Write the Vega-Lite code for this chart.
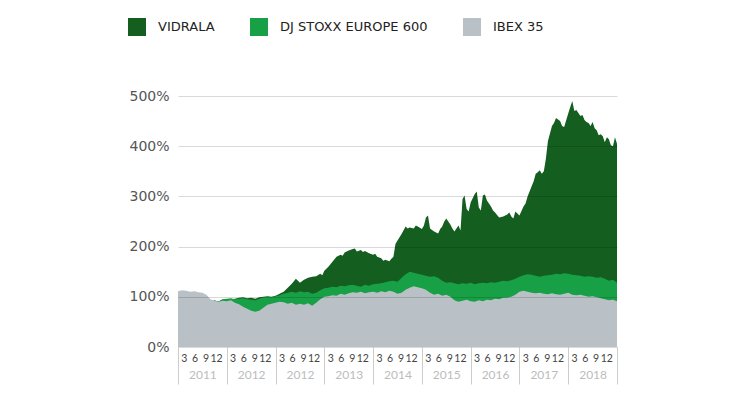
{
  "$schema": "https://vega.github.io/schema/vega-lite/v6.json",
  "autosize": "none",
  "width": 439,
  "height": 251,
  "padding": {"left": 178, "top": 96, "right": 123, "bottom": 53},
  "background": "white",
  "config": {
    "font": "DejaVu Sans",
    "view": {"stroke": null},
    "axis": {"title": null, "labelFont": "DejaVu Sans", "grid": false}
  },
  "data": {
    "values": [
      {"t":0,"v":105,"s":100,"i":111},{"t":1,"v":106,"s":102,"i":113},{"t":2,"v":104,"s":101,"i":112},
      {"t":3,"v":105,"s":103,"i":110},{"t":4,"v":103,"s":102,"i":111},{"t":5,"v":102,"s":100,"i":109},
      {"t":6,"v":99,"s":98,"i":108},{"t":7,"v":94,"s":95,"i":104},{"t":8,"v":89,"s":90,"i":95},
      {"t":9,"v":93,"s":92,"i":92},{"t":10,"v":90,"s":91,"i":90},{"t":11,"v":95,"s":95,"i":92},
      {"t":12,"v":92,"s":96,"i":91},{"t":13,"v":94,"s":97,"i":93},{"t":14,"v":96,"s":95,"i":88},
      {"t":15,"v":98,"s":96,"i":85},{"t":16,"v":99,"s":97,"i":80},{"t":17,"v":97,"s":95,"i":76},
      {"t":18,"v":98,"s":94,"i":72},{"t":19,"v":96,"s":93,"i":70},{"t":20,"v":99,"s":96,"i":72},
      {"t":21,"v":100,"s":99,"i":78},{"t":22,"v":101,"s":100,"i":84},{"t":23,"v":100,"s":99,"i":86},
      {"t":24,"v":102,"s":101,"i":88},{"t":25,"v":106,"s":103,"i":90},{"t":26,"v":110,"s":106,"i":89},
      {"t":27,"v":118,"s":108,"i":86},{"t":28,"v":126,"s":110,"i":88},{"t":29,"v":136,"s":108,"i":84},
      {"t":30,"v":128,"s":111,"i":86},{"t":31,"v":134,"s":109,"i":84},{"t":32,"v":138,"s":110,"i":87},
      {"t":33,"v":140,"s":106,"i":82},{"t":34,"v":141,"s":108,"i":88},{"t":35,"v":146,"s":113,"i":95},
      {"t":36,"v":152,"s":117,"i":100},{"t":37,"v":160,"s":118,"i":101},{"t":38,"v":170,"s":120,"i":103},
      {"t":39,"v":180,"s":119,"i":102},{"t":40,"v":184,"s":122,"i":106},{"t":41,"v":188,"s":121,"i":104},
      {"t":42,"v":192,"s":123,"i":107},{"t":43,"v":195,"s":124,"i":109},{"t":44,"v":190,"s":122,"i":108},
      {"t":45,"v":193,"s":120,"i":110},{"t":46,"v":191,"s":124,"i":107},{"t":47,"v":187,"s":122,"i":109},
      {"t":48,"v":184,"s":125,"i":110},{"t":49,"v":180,"s":126,"i":108},{"t":50,"v":177,"s":127,"i":111},
      {"t":51,"v":174,"s":129,"i":109},{"t":52,"v":171,"s":131,"i":112},{"t":53,"v":180,"s":132,"i":110},
      {"t":54,"v":212,"s":130,"i":106},{"t":55,"v":225,"s":138,"i":108},{"t":56,"v":240,"s":145,"i":114},
      {"t":57,"v":238,"s":150,"i":118},{"t":58,"v":236,"s":148,"i":121},{"t":59,"v":240,"s":146,"i":119},
      {"t":60,"v":235,"s":144,"i":117},{"t":61,"v":258,"s":142,"i":114},{"t":62,"v":236,"s":140,"i":108},
      {"t":63,"v":230,"s":141,"i":104},{"t":64,"v":226,"s":138,"i":106},{"t":65,"v":240,"s":132,"i":102},
      {"t":66,"v":256,"s":128,"i":104},{"t":67,"v":244,"s":129,"i":100},{"t":68,"v":230,"s":127,"i":93},
      {"t":69,"v":242,"s":125,"i":90},{"t":70,"v":295,"s":127,"i":92},{"t":71,"v":275,"s":126,"i":94},
      {"t":72,"v":288,"s":128,"i":91},{"t":73,"v":305,"s":125,"i":90},{"t":74,"v":278,"s":127,"i":93},
      {"t":75,"v":302,"s":128,"i":91},{"t":76,"v":292,"s":127,"i":94},{"t":77,"v":280,"s":129,"i":93},
      {"t":78,"v":268,"s":128,"i":96},{"t":79,"v":258,"s":130,"i":95},{"t":80,"v":260,"s":132,"i":98},
      {"t":81,"v":264,"s":131,"i":98},{"t":82,"v":260,"s":133,"i":100},{"t":83,"v":270,"s":136,"i":104},
      {"t":84,"v":262,"s":140,"i":110},{"t":85,"v":280,"s":143,"i":112},{"t":86,"v":300,"s":145,"i":110},
      {"t":87,"v":320,"s":144,"i":108},{"t":88,"v":345,"s":142,"i":107},{"t":89,"v":352,"s":140,"i":108},
      {"t":90,"v":350,"s":142,"i":106},{"t":91,"v":410,"s":143,"i":105},{"t":92,"v":440,"s":144,"i":107},
      {"t":93,"v":456,"s":146,"i":105},{"t":94,"v":450,"s":145,"i":104},{"t":95,"v":438,"s":147,"i":106},
      {"t":96,"v":465,"s":146,"i":108},{"t":97,"v":490,"s":144,"i":104},{"t":98,"v":472,"s":143,"i":103},
      {"t":99,"v":460,"s":142,"i":104},{"t":100,"v":452,"s":140,"i":102},{"t":101,"v":446,"s":141,"i":100},
      {"t":102,"v":448,"s":140,"i":101},{"t":103,"v":432,"s":138,"i":99},{"t":104,"v":424,"s":139,"i":97},
      {"t":105,"v":408,"s":136,"i":95},{"t":106,"v":414,"s":132,"i":93},{"t":107,"v":400,"s":134,"i":94},
      {"t":108,"v":405,"s":128,"i":91},
      {"t":35.5,"v":143},{"t":37.5,"v":165},{"t":40.5,"v":182},{"t":43.5,"v":196},{"t":45.5,"v":189},
      {"t":48.5,"v":186},{"t":50.5,"v":172},{"t":52.5,"v":176},{"t":53.5,"v":205},{"t":56.5,"v":236},
      {"t":58.5,"v":242},{"t":60.5,"v":242},{"t":61.5,"v":262},{"t":62.5,"v":233},{"t":64.5,"v":235},
      {"t":65.5,"v":250},{"t":66.5,"v":250},{"t":67.5,"v":236},{"t":69.5,"v":232},{"t":70.5,"v":302},
      {"t":71.5,"v":270},{"t":73.5,"v":310},{"t":74.5,"v":272},{"t":75.5,"v":304},{"t":76.5,"v":286},
      {"t":77.5,"v":272},{"t":81.5,"v":268},{"t":82.5,"v":256},{"t":85.5,"v":286},{"t":87.5,"v":330},
      {"t":88.5,"v":348},{"t":89.5,"v":345},{"t":90.5,"v":375},{"t":92.5,"v":446},{"t":94.5,"v":440},
      {"t":96.5,"v":478},{"t":97.5,"v":470},{"t":99.5,"v":462},{"t":100.5,"v":448},{"t":101.5,"v":440},
      {"t":102.5,"v":436},{"t":103.5,"v":422},{"t":104.5,"v":420},{"t":105.5,"v":418},{"t":106.5,"v":402},
      {"t":107.5,"v":418}
    ]
  },
  "resolve": {"scale": {"x": "independent"}, "axis": {"x": "independent"}},
  "layer": [
    {
      "encoding": {
        "x": {
          "field": "t",
          "type": "quantitative",
          "scale": {"domain": [0, 108], "nice": false, "zero": false},
          "axis": {
            "orient": "bottom",
            "values": [1.45, 4.05, 6.75, 9.35, 13.45, 16.05, 18.75, 21.35, 25.45, 28.05, 30.75, 33.35, 37.45, 40.05, 42.75, 45.35, 49.45, 52.05, 54.75, 57.35, 61.45, 64.05, 66.75, 69.35, 73.45, 76.05, 78.75, 81.35, 85.45, 88.05, 90.75, 93.35, 97.45, 100.05, 102.75, 105.35],
            "labelExpr": "(datum.value % 12) < 3 ? '3' : (datum.value % 12) < 5.5 ? '6' : (datum.value % 12) < 8 ? '9' : '12'",
            "labelFont": "Lato",
            "domain": false,
            "ticks": false,
            "tickSize": 0,
            "labelPadding": 6,
            "labelFontSize": 10.5,
            "labelColor": "#444444",
            "labelOverlap": false,
            "labelFlush": false,
            "labelAlign": "center"
          }
        },
        "y": {
          "type": "quantitative",
          "stack": null,
          "scale": {"domain": [0, 500], "nice": false},
          "axis": {
            "values": [0, 100, 200, 300, 400, 500],
            "labelExpr": "datum.value + '%'",
            "grid": true,
            "gridColor": "#000000",
            "gridOpacity": 0.15,
            "gridWidth": 1.2,
            "domain": false,
            "ticks": false,
            "labelPadding": 9,
            "labelFontSize": 14,
            "labelColor": "#555555",
            "zindex": 1
          }
        }
      },
      "layer": [
        {
          "mark": {"type": "area", "interpolate": "linear", "invalid": "filter"},
          "encoding": {
            "y": {"field": "v", "type": "quantitative", "stack": null},
            "color": {
              "datum": "VIDRALA",
              "type": "nominal",
              "scale": {
                "domain": ["VIDRALA", "DJ STOXX EUROPE 600", "IBEX 35"],
                "range": ["#145e20", "#17a046", "#b9c1c6"]
              },
              "legend": {
                "title": null,
                "orient": "none",
                "legendX": -50,
                "legendY": -78,
                "direction": "horizontal",
                "symbolType": "square",
                "symbolSize": 324,
                "symbolStrokeWidth": 0,
                "symbolOpacity": 1,
                "labelFont": "DejaVu Sans",
                "labelFontSize": 13,
                "labelColor": "#222222",
                "labelOffset": 12,
                "columnPadding": 35
              }
            }
          }
        },
        {
          "mark": {"type": "area", "interpolate": "linear", "invalid": "filter"},
          "encoding": {
            "y": {"field": "s", "type": "quantitative", "stack": null},
            "color": {"datum": "DJ STOXX EUROPE 600", "type": "nominal"}
          }
        },
        {
          "mark": {"type": "area", "interpolate": "linear", "invalid": "filter"},
          "encoding": {
            "y": {"field": "i", "type": "quantitative", "stack": null},
            "color": {"datum": "IBEX 35", "type": "nominal"}
          }
        }
      ]
    },
    {
      "mark": {"type": "rule", "opacity": 0},
      "encoding": {
        "x": {
          "field": "t",
          "type": "quantitative",
          "scale": {"domain": [0, 108], "nice": false, "zero": false},
          "axis": {
            "orient": "bottom",
            "values": [6, 18, 30, 42, 54, 66, 78, 90, 102],
            "labelExpr": "['2011','2012','2012','2013','2014','2015','2016','2017','2018'][floor(datum.value / 12)]",
            "labelFont": "Lato",
            "domain": false,
            "ticks": false,
            "tickSize": 0,
            "labelPadding": 22,
            "labelFontSize": 12,
            "labelColor": "#bcbcbc",
            "labelOverlap": false,
            "labelFlush": false
          }
        }
      }
    },
    {
      "mark": {"type": "rule", "opacity": 0},
      "encoding": {
        "x": {
          "field": "t",
          "type": "quantitative",
          "scale": {"domain": [0, 108], "nice": false, "zero": false},
          "axis": {
            "orient": "bottom",
            "values": [0, 12, 24, 36, 48, 60, 72, 84, 96, 108],
            "labels": false,
            "domain": false,
            "ticks": true,
            "tickSize": 37,
            "tickColor": "#cccccc",
            "tickWidth": 1
          }
        }
      }
    }
  ]
}
